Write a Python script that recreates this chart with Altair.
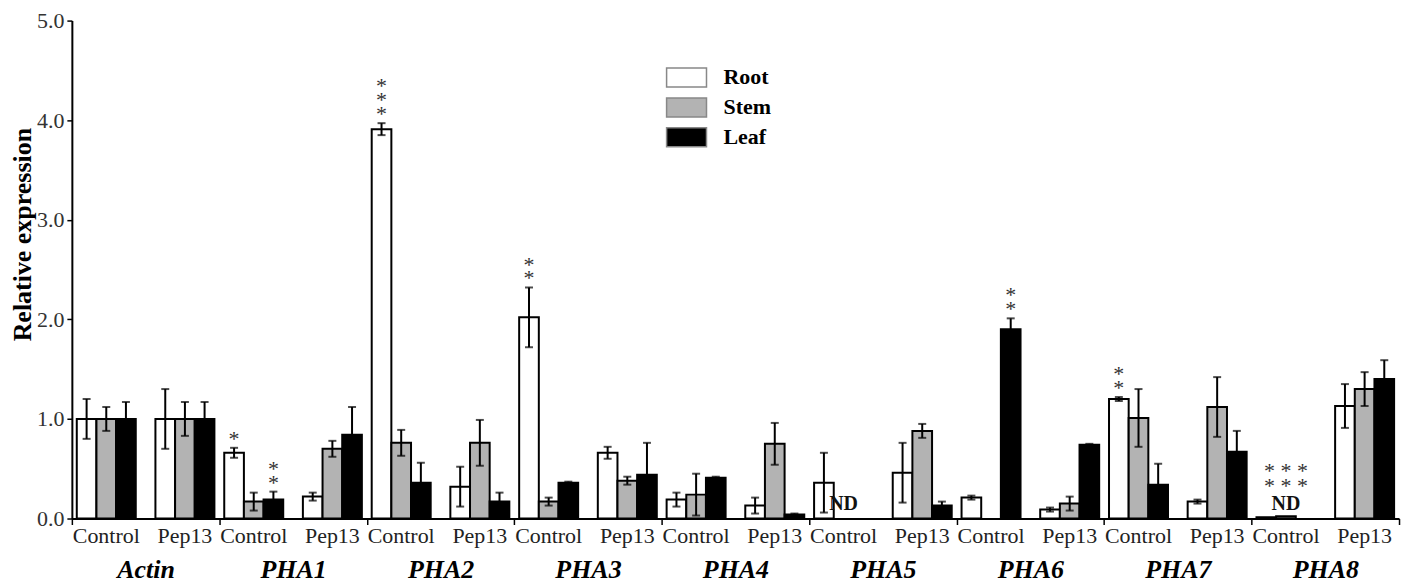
import altair as alt
import pandas as pd

genes = ["Actin", "PHA1", "PHA2", "PHA3", "PHA4", "PHA5", "PHA6", "PHA7", "PHA8"]
treatments = ["Control", "Pep13"]
tissues = ["Root", "Stem", "Leaf"]
tissue_colors = ["#ffffff", "#b3b3b3", "#000000"]

# one value per gene x treatment (Actin-Control, Actin-Pep13, PHA1-Control, ...)
root_mean = [1.00, 1.00, 0.66, 0.22, 3.91, 0.32, 2.02, 0.66, 0.19, 0.13, 0.36, 0.46, 0.21, 0.09, 1.20, 0.17, 0.013, 1.13]
root_err = [0.20, 0.30, 0.05, 0.04, 0.06, 0.20, 0.30, 0.06, 0.07, 0.08, 0.30, 0.30, 0.02, 0.02, 0.02, 0.02, 0.0, 0.22]
stem_mean = [1.00, 1.00, 0.17, 0.70, 0.76, 0.76, 0.17, 0.38, 0.24, 0.75, 0.0, 0.88, 0.0, 0.15, 1.01, 1.12, 0.023, 1.30]
stem_err = [0.12, 0.17, 0.09, 0.08, 0.13, 0.23, 0.04, 0.04, 0.21, 0.21, 0.0, 0.07, 0.0, 0.07, 0.29, 0.30, 0.0, 0.17]
leaf_mean = [1.00, 1.00, 0.19, 0.84, 0.36, 0.17, 0.36, 0.44, 0.41, 0.04, 0.0, 0.13, 1.90, 0.74, 0.34, 0.67, 0.0, 1.40]
leaf_err = [0.17, 0.17, 0.08, 0.28, 0.20, 0.09, 0.01, 0.32, 0.01, 0.01, 0.0, 0.04, 0.11, 0.01, 0.21, 0.21, 0.0, 0.19]

# significance marks (number of stacked asterisks above the error bar)
sig_gene = ["PHA1", "PHA1", "PHA2", "PHA3", "PHA6", "PHA7"]
sig_treat = ["Control", "Control", "Control", "Control", "Control", "Control"]
sig_tissue = ["Root", "Leaf", "Root", "Root", "Leaf", "Root"]
sig_count = [1, 2, 3, 2, 2, 2]

nd_gene = ["PHA5", "PHA8"]
nd_treat = ["Control", "Control"]
nd_tissue = ["Stem", "Stem"]
nd_text = ["ND", "ND"]

pha8_gene = ["PHA8", "PHA8"]
pha8_text = ["* * *", "* * *"]
pha8_level = [0, 1]

slots = ["Control-Root", "Control-Stem", "Control-Leaf", "gap",
         "Pep13-Root", "Pep13-Stem", "Pep13-Leaf"]

means = {"Root": root_mean, "Stem": stem_mean, "Leaf": leaf_mean}
errs = {"Root": root_err, "Stem": stem_err, "Leaf": leaf_err}

rows = []
k = 0
for g in genes:
    for t in treatments:
        for tis in tissues:
            m = means[tis][k]
            e = errs[tis][k]
            rows.append({"gene": g, "treat": t, "tissue": tis, "slot": t + "-" + tis,
                         "mean": m, "err": e, "lo": m - e, "hi": m + e})
        k += 1
df = pd.DataFrame(rows)

srows = []
for g, t, tis, n in zip(sig_gene, sig_treat, sig_tissue, sig_count):
    for lvl in range(n):
        srows.append({"gene": g, "treat": t, "tissue": tis, "level": lvl, "text": "*"})
sig = pd.DataFrame(srows)
sig = sig.merge(df[["gene", "treat", "tissue", "hi", "slot"]], on=["gene", "treat", "tissue"])

nd = pd.DataFrame({"gene": nd_gene, "treat": nd_treat, "tissue": nd_tissue, "text": nd_text})
nd["slot"] = nd["treat"] + "-" + nd["tissue"]

p8 = pd.DataFrame({"gene": pha8_gene, "text": pha8_text, "level": pha8_level,
                   "slot": ["Control-Stem", "Control-Stem"]})

lab = pd.DataFrame([{"gene": g, "treat": t, "slot": t + "-Stem"} for g in genes for t in treatments])

FONT = "Liberation Serif"

X = alt.X("gene:N", sort=genes,
          scale=alt.Scale(domain=genes, paddingInner=0, paddingOuter=0),
          axis=alt.Axis(title=None, labelAngle=0, labelFont=FONT, labelFontSize=26,
                        labelFontStyle="italic", labelFontWeight="bold", labelColor="black",
                        labelPadding=32, tickSize=6, tickBand="extent", tickColor="black",
                        tickWidth=1.5, domainColor="black", domainWidth=2))
XO = alt.XOffset("slot:N", sort=slots,
                 scale=alt.Scale(domain=slots, paddingOuter=0.25, paddingInner=0))
YS = alt.Scale(domain=[0, 5], nice=False)
YAX = alt.Axis(values=[0, 1, 2, 3, 4, 5], format=".1f", title="Relative expression",
               titleFont=FONT, titleFontSize=26, titleFontWeight="bold", titleColor="black",
               titleAngle=270, titleX=-41, titleY=214, titleAlign="center",
               titleBaseline="alphabetic",
               labelFont=FONT, labelFontSize=22, labelColor="#333333", labelPadding=3,
               tickSize=5, tickColor="black", tickWidth=1.5, domainColor="black",
               domainWidth=2, grid=False)

bars = alt.Chart(df).transform_filter("datum.mean > 0").mark_bar(
    stroke="black", strokeWidth=2
).encode(
    x=X, xOffset=XO,
    y=alt.Y("mean:Q", scale=YS, axis=YAX),
    fill=alt.Fill("tissue:N", sort=tissues,
                  scale=alt.Scale(domain=tissues, range=tissue_colors),
                  legend=alt.Legend(title=None, orient="none", legendX=600, legendY=41,
                                    symbolType="M-1.333,-0.633H1.333V0.633H-1.333Z",
                                    symbolSize=900, symbolStrokeColor="#888888",
                                    symbolStrokeWidth=1.5, labelFont=FONT, labelFontSize=22,
                                    labelFontWeight="bold", labelColor="black",
                                    labelOffset=21, rowPadding=1, padding=0))
)

errdf = alt.Chart(df).transform_filter("datum.err > 0")
rules = errdf.mark_rule(color="black", strokeWidth=2).encode(
    x=X, xOffset=XO, y=alt.Y("lo:Q", scale=YS), y2="hi:Q")
cap_hi = errdf.mark_tick(color="black", size=8, thickness=2).encode(
    x=X, xOffset=XO, y=alt.Y("hi:Q", scale=YS))
cap_lo = errdf.mark_tick(color="black", size=8, thickness=2).encode(
    x=X, xOffset=XO, y=alt.Y("lo:Q", scale=YS))

labels = alt.Chart(lab).mark_text(font=FONT, fontSize=22, color="#222222",
                                  baseline="top", dy=8).encode(
    x=X, xOffset=XO, y=alt.datum(0), text="treat:N")

star_layers = []
for lvl in range(3):
    star_layers.append(
        alt.Chart(sig).transform_filter(f"datum.level == {lvl}").mark_text(
            font=FONT, fontSize=22, color="#333333", baseline="bottom", dy=3 - 14 * lvl
        ).encode(x=X, xOffset=XO, y=alt.Y("hi:Q", scale=YS), text="text:N")
    )

ndt = alt.Chart(nd).mark_text(font=FONT, fontSize=20, fontWeight="bold", color="#111111",
                              baseline="bottom", dy=-5).encode(
    x=X, xOffset=XO, y=alt.datum(0), text="text:N")

p8_layers = []
for lvl in range(2):
    p8_layers.append(
        alt.Chart(p8).transform_filter(f"datum.level == {lvl}").mark_text(
            font=FONT, fontSize=22, color="#333333", baseline="bottom", dy=-21 - 15 * lvl
        ).encode(x=X, xOffset=XO, y=alt.datum(0), text="text:N")
    )

chart = alt.layer(bars, rules, cap_hi, cap_lo, labels, *star_layers, ndt, *p8_layers).properties(
    width=1330, height=499,
    autosize=alt.AutoSizeParams(type="none"),
    padding={"left": 64, "top": 12, "right": 10, "bottom": 66},
).configure_view(strokeWidth=0)

chart.save("out.html", embed_options={"renderer": "svg", "actions": False})
